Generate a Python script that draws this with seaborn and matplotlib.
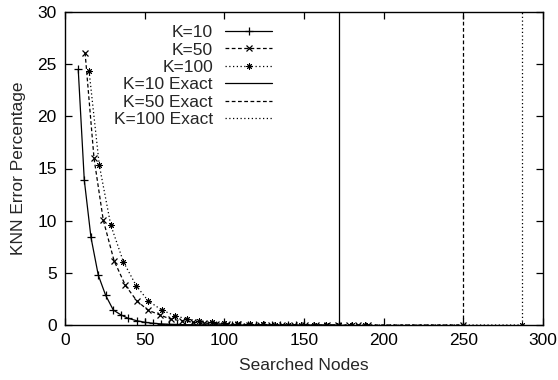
import matplotlib
matplotlib.use("Agg")
import matplotlib.pyplot as plt
import seaborn as sns
import numpy as np

# ---- data ----
k10_x = [8.3, 12.1, 16.3, 20.9, 25.5, 30.3, 35.2, 39.7, 45.0, 50.2, 55, 60, 65, 70, 75, 80, 85,
         90, 95, 100, 105, 110, 115, 120, 125, 130, 135, 140, 145, 150, 172]
k10_y = [24.5, 13.9, 8.4, 4.77, 2.85, 1.44, 0.96, 0.64, 0.41, 0.26, 0.17, 0.11, 0.07, 0.05, 0.03,
         0.02, 0.015, 0.01, 0.01, 0.005, 0.0, 0.0, 0.0, 0.0, 0.0, 0.0, 0.0, 0.0, 0.0, 0.0, 0.0]

k50_x = [12.6, 18.2, 24.0, 30.8, 37.9, 45.0, 51.9, 59.6, 66.5, 73.6, 80.5, 87.5, 94.5, 101.5,
         108.5, 115.5, 122.5, 129.5, 136.5, 143.5, 150.5, 157.5, 164.5, 171.5, 178.5, 184, 190, 250]
k50_y = [26.1, 16.0, 10.07, 6.16, 3.8, 2.33, 1.44, 0.96, 0.55, 0.41, 0.26, 0.18, 0.12, 0.08,
         0.06, 0.04, 0.03, 0.02, 0.01, 0.01, 0.0, 0.0, 0.0, 0.0, 0.0, 0.0, 0.0, 0.0]

k100_x = [15.1, 21.5, 28.7, 36.7, 44.8, 52.3, 60.7, 69.0, 76.5, 84, 92, 100, 108, 116, 124, 132,
          140, 148, 156, 164, 172, 180, 188, 287]
k100_y = [24.35, 15.34, 9.59, 6.04, 3.74, 2.3, 1.44, 0.89, 0.58, 0.4, 0.28, 0.18, 0.12, 0.08,
          0.05, 0.03, 0.02, 0.01, 0.01, 0.0, 0.0, 0.0, 0.0, 0.0]

exact_x = {"K=10 Exact": 172, "K=50 Exact": 250, "K=100 Exact": 287}
exact_y = [0, 30]

x_ticks = [0, 50, 100, 150, 200, 250, 300]
y_ticks = [0, 5, 10, 15, 20, 25, 30]

# ---- style ----
sns.set_style("ticks")
plt.rcParams['font.family'] = ['Liberation Sans', 'DejaVu Sans']
FS = 12.5

fig = plt.figure(figsize=(5.58, 3.80), dpi=100)
ax = fig.add_axes([65/558, 1 - 325/380, (543-65)/558, (325-12)/380])

lw = 0.9
asterisk = (8, 2, 0)
mkw = dict(color='k', markeredgecolor='k', markerfacecolor='k',
           estimator=None, sort=False, lw=lw)

sns.lineplot(x=k10_x, y=k10_y, ax=ax, marker='+', markersize=6, markeredgewidth=0.9,
             label="K=10", **mkw)
sns.lineplot(x=k50_x, y=k50_y, ax=ax, marker='x', markersize=4.5, markeredgewidth=0.9,
             label="K=50", linestyle=(0, (3, 2)), **mkw)
sns.lineplot(x=k100_x, y=k100_y, ax=ax, marker=asterisk, markersize=4.5, markeredgewidth=0.7,
             label="K=100", linestyle=(0, (1, 2)), **mkw)

styles = {"K=10 Exact": '-', "K=50 Exact": (0, (3, 2)), "K=100 Exact": (0, (1, 2))}
for name, xv in exact_x.items():
    sns.lineplot(x=[xv, xv], y=exact_y, ax=ax, color='k', lw=lw, linestyle=styles[name],
                 label=name, estimator=None, sort=False)

ax.set_xlim(0, 300)
ax.set_ylim(0, 30)
ax.set_xticks(x_ticks)
ax.set_yticks(y_ticks)
ax.tick_params(direction='in', length=5, width=0.9, top=True, right=True,
               labelsize=FS, pad=6, colors='k')
for s in ax.spines.values():
    s.set_visible(True)
    s.set_linewidth(1.0)
    s.set_color('k')
ax.set_xlabel("Searched Nodes", fontsize=FS, labelpad=7)
ax.set_ylabel("KNN Error Percentage", fontsize=FS, labelpad=8)

leg = ax.legend(loc='upper right', bbox_to_anchor=(272/558, 1 - 25/380),
                bbox_transform=fig.transFigure, frameon=False, fontsize=FS,
                markerfirst=False, handlelength=2.7, handletextpad=0.7,
                labelspacing=0.13, borderpad=0, borderaxespad=0)

fig.savefig("out.png", dpi=100)
